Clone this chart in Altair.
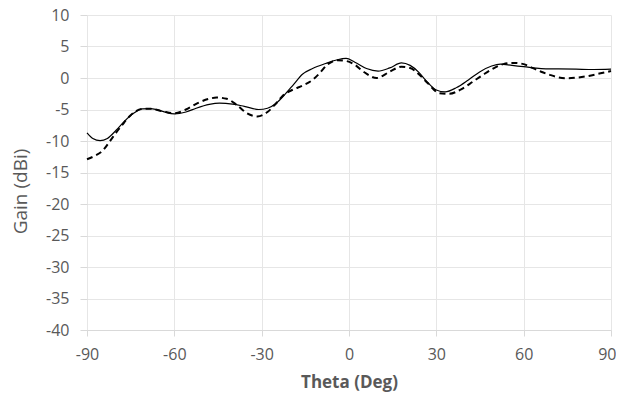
import altair as alt
import pandas as pd

solid_theta = [-90, -88, -85.5, -83, -80, -77, -74, -71, -68, -64, -60, -56, -52.5, -48, -44.5,
               -40, -36, -31, -28, -25, -22, -19, -16, -12.5, -8, -4, -1, 2, 6, 10, 14, 18, 21,
               24, 27, 30, 33, 37, 41, 45, 49, 52, 56, 60, 66, 72, 78, 84, 90]
solid_gain = [-8.7, -9.6, -9.95, -9.6, -8.3, -6.8, -5.6, -4.9, -4.85, -5.3, -5.7, -5.4, -4.8, -4.2, -4.0,
              -4.15, -4.5, -5.0, -4.8, -4.0, -2.6, -1.0, 0.6, 1.5, 2.3, 2.9, 3.1, 2.5, 1.5, 1.1, 1.6, 2.4, 2.0,
              0.9, -0.7, -1.9, -2.2, -1.5, -0.3, 1.0, 1.9, 2.2, 2.0, 1.8, 1.5, 1.45, 1.4, 1.35, 1.4]

dashed_theta = [-90, -87.5, -85, -81, -78, -75, -71, -68, -64, -60, -56, -52, -48, -45.5, -42,
                -38.5, -35, -31.5, -28, -25, -22.5, -19, -16, -12.5, -10, -7.5, -4, -1, 2, 5, 9.5,
                14, 18, 21, 24, 27, 31, 34.5, 38.5, 42.5, 46, 49.5, 53, 56.5, 60, 63, 66, 69, 72,
                75, 78, 82, 86, 90]
dashed_gain = [-12.9, -12.4, -11.7, -9.3, -7.5, -5.9, -4.9, -4.9, -5.3, -5.6, -5.0, -4.0, -3.3, -3.1, -3.3,
               -4.3, -5.6, -6.1, -5.4, -4.0, -2.7, -1.8, -1.2, -0.3, 0.8, 2.1, 2.8, 2.7, 2.1, 1.0, 0.0,
               1.0, 1.8, 1.6, 0.6, -0.8, -2.4, -2.5, -1.8, -0.6, 0.5, 1.5, 2.2, 2.4, 2.2, 1.6, 1.0, 0.5, 0.1,
               -0.05, 0.05, 0.3, 0.7, 1.1]

x_ticks = [-90, -60, -30, 0, 30, 60, 90]
y_ticks = [-40, -35, -30, -25, -20, -15, -10, -5, 0, 5, 10]

df_s = pd.DataFrame({"theta": solid_theta, "gain": solid_gain})
df_d = pd.DataFrame({"theta": dashed_theta, "gain": dashed_gain})

FONT = "Open Sans"
GRAY = "#595959"
LABEL = "replace(datum.label, '\u2212', '-')"

x_enc = alt.X("theta:Q", scale=alt.Scale(domain=[-90, 90], nice=False),
              axis=alt.Axis(values=x_ticks, title="Theta (Deg)", titleFontWeight="bold",
                            titleFontSize=17, titleColor=GRAY, titlePadding=12,
                            labelFontSize=16, labelColor=GRAY, labelPadding=10,
                            labelExpr=LABEL, labelFlush=False,
                            labelAlign={"condition": {"test": "datum.value == 90", "value": "right"},
                                        "value": "center"},
                            labelOffset={"condition": {"test": "datum.value == 90", "value": 5},
                                         "value": 0},
                            tickColor="#d9d9d9", tickSize=6, domain=True, domainColor="#d9d9d9",
                            gridColor="#e6e6e6", labelFont=FONT, titleFont=FONT))
y_enc = alt.Y("gain:Q", scale=alt.Scale(domain=[-40, 10], nice=False),
              axis=alt.Axis(values=y_ticks, title="Gain (dBi)", titleFontWeight="normal",
                            titleFontSize=19, titleColor=GRAY, titlePadding=15, titleY=176,
                            labelFontSize=16, labelColor=GRAY, labelPadding=11,
                            labelExpr=LABEL, labelFlush=False,
                            tickColor="#d9d9d9", tickSize=7, domain=False,
                            gridColor="#e6e6e6", labelFont=FONT, titleFont=FONT))

solid = alt.Chart(df_s).mark_line(color="black", strokeWidth=1.2, interpolate="monotone").encode(
    x=x_enc, y=y_enc)
dashed = alt.Chart(df_d).mark_line(color="black", strokeWidth=2, strokeDash=[6, 4],
                                   interpolate="monotone").encode(x=x_enc, y=y_enc)

chart = alt.layer(solid, dashed).properties(
    width=524, height=315,
    autosize=alt.AutoSizeParams(type="none"),
    padding={"left": 79, "top": 7, "right": 5, "bottom": 70},
).configure_view(stroke=None)

chart.save("out.html", embed_options={"renderer": "svg", "actions": False})
